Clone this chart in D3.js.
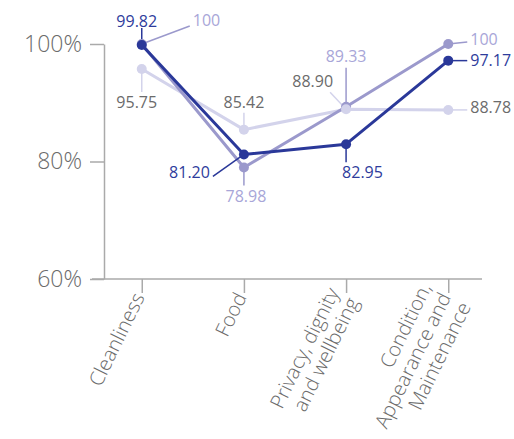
<!DOCTYPE html>
<html>
<head>
<meta charset="utf-8">
<script src="https://cdn.jsdelivr.net/npm/d3@7"></script>
<style>
  html, body { margin: 0; padding: 0; background: #fff; }
  svg { display: block; font-family: "Open Sans", sans-serif; }
</style>
</head>
<body>
<svg id="chart" width="514" height="439"></svg>
<script>
// ---- data ----
const categories = [
  ["Cleanliness"],
  ["Food"],
  ["Privacy, dignity", "and wellbeing"],
  ["Condition,", "Appearance and", "Maintenance"]
];
const seriesNames = ["Light", "Medium", "Dark"];
const lightValues  = [95.75, 85.42, 88.90, 88.78];
const mediumValues = [100, 78.98, 89.33, 100];
const darkValues   = [99.82, 81.20, 82.95, 97.17];
const yTickValues  = [60, 80, 100];
const valueLabels = {
  Light:  ["95.75", "85.42", "88.90", "88.78"],
  Medium: ["100", "78.98", "89.33", "100"],
  Dark:   ["99.82", "81.20", "82.95", "97.17"]
};

// ---- styling / layout ----
const styles = {
  Light:  { line: "#d3d3eb", text: "#6b6b6b", width: 3 },
  Medium: { line: "#9b99cc", text: "#a8a6d8", width: 3 },
  Dark:   { line: "#2a3899", text: "#2e3c9c", width: 3 }
};
// leader end [dx,dy], label position [dx,dy], anchor — relative to each point
const labelLayout = {
  Light: [
    { lead: [0, 23],  pos: [-5, 39],  anchor: "middle" },
    { lead: [0, -17], pos: [0, -22],  anchor: "middle" },
    { lead: [-16, -17], pos: [-13, -22], anchor: "end" },
    { lead: [19, 0],  pos: [22, 3],   anchor: "start" }
  ],
  Medium: [
    { lead: [48, -18], pos: [51, -18], anchor: "start" },
    { lead: [0, 18],  pos: [2, 35],   anchor: "middle" },
    { lead: [0, -39], pos: [0, -45],  anchor: "middle" },
    { lead: [19, -2], pos: [22, 1],   anchor: "start" }
  ],
  Dark: [
    { lead: [0, -17], pos: [-5, -18], anchor: "middle" },
    { lead: [-31, 22], pos: [-34, 24], anchor: "end" },
    { lead: [0, 18],  pos: [-4, 34],  anchor: "start" },
    { lead: [19, 0],  pos: [22, 5],   anchor: "start" }
  ]
};

const svg = d3.select("#chart");
const plot = { left: 104, right: 482, top: 44, bottom: 279 };

const catKeys = categories.map(c => c.join(" "));
const x = d3.scalePoint().domain(catKeys).range([106, 484]).padding(0.35);
const y = d3.scaleLinear().domain([60, 100]).range([plot.bottom, plot.top]);

const axisColor = "#aaaaaa";
const axisText = "#6b6b6b";

// y axis
const yAxis = svg.append("g")
  .attr("transform", `translate(${plot.left},0)`)
  .call(d3.axisLeft(y).tickValues(yTickValues).tickSize(14).tickSizeOuter(0).tickPadding(8)
    .tickFormat(d => d + "%"));
yAxis.selectAll("path.domain").attr("stroke", axisColor).attr("stroke-width", 1.5);
yAxis.selectAll(".tick line").attr("stroke", axisColor).attr("stroke-width", 1.5);
yAxis.selectAll(".tick text").attr("fill", axisText).style("font-size", "23px")
  .style("font-weight", 300)
  .style("font-family", "'Open Sans', sans-serif");

// x axis
const xAxis = svg.append("g")
  .attr("transform", `translate(0,${plot.bottom})`)
  .call(d3.axisBottom(x).tickSize(14).tickSizeOuter(0).tickFormat(""));
xAxis.select("path.domain").remove();
xAxis.append("line")
  .attr("x1", plot.left - 12).attr("x2", plot.right)
  .attr("stroke", axisColor).attr("stroke-width", 1.5);
xAxis.selectAll(".tick line").attr("stroke", axisColor).attr("stroke-width", 1.5);
xAxis.selectAll(".tick text").remove();

// category labels
const catFont = 20, lineH = 1.1;
svg.append("g").selectAll("text")
  .data(categories)
  .join("text")
  .attr("transform", (d, i) => `translate(${x(catKeys[i]) - 3},${plot.bottom + 15}) rotate(-64)`)
  .attr("text-anchor", "end")
  .attr("fill", axisText)
  .style("font-size", catFont + "px")
  .style("font-weight", 300)
  .each(function(lines) {
    const t = d3.select(this);
    const n = lines.length;
    lines.forEach((ln, k) => {
      t.append("tspan")
        .attr("x", 0)
        .attr("y", 0)
        .attr("dy", (0.35 + (k - (n - 1) / 2) * lineH) + "em")
        .text(ln);
    });
  });

// series
const seriesData = {
  Light: lightValues,
  Medium: mediumValues,
  Dark: darkValues
};
const line = d3.line().x((d, i) => x(catKeys[i])).y(d => y(d));

const gLines = svg.append("g");
seriesNames.forEach(name => {
  gLines.append("path")
    .datum(seriesData[name])
    .attr("d", line)
    .attr("fill", "none")
    .attr("stroke", styles[name].line)
    .attr("stroke-width", styles[name].width)
    .attr("stroke-linejoin", "round");
});

// leaders
const gLead = svg.append("g");
seriesNames.forEach(name => {
  seriesData[name].forEach((v, i) => {
    const px = x(catKeys[i]), py = y(v);
    const L = labelLayout[name][i];
    gLead.append("line")
      .attr("x1", px).attr("y1", py)
      .attr("x2", px + L.lead[0]).attr("y2", py + L.lead[1])
      .attr("stroke", styles[name].line)
      .attr("stroke-width", 1.5);
  });
});

// points
const pointOrder = ["Medium", "Light", "Dark"];
const gPts = svg.append("g");
pointOrder.forEach(name => {
  gPts.selectAll(null)
    .data(seriesData[name])
    .join("circle")
    .attr("cx", (d, i) => x(catKeys[i]))
    .attr("cy", d => y(d))
    .attr("r", 5)
    .attr("fill", styles[name].line);
});

// labels
const gLab = svg.append("g");
seriesNames.forEach(name => {
  seriesData[name].forEach((v, i) => {
    const px = x(catKeys[i]), py = y(v);
    const L = labelLayout[name][i];
    gLab.append("text")
      .attr("x", px + L.pos[0]).attr("y", py + L.pos[1])
      .attr("text-anchor", L.anchor)
      .attr("fill", styles[name].text)
      .style("font-size", "16px")
      .text(valueLabels[name][i]);
  });
});
</script>
</body>
</html>
